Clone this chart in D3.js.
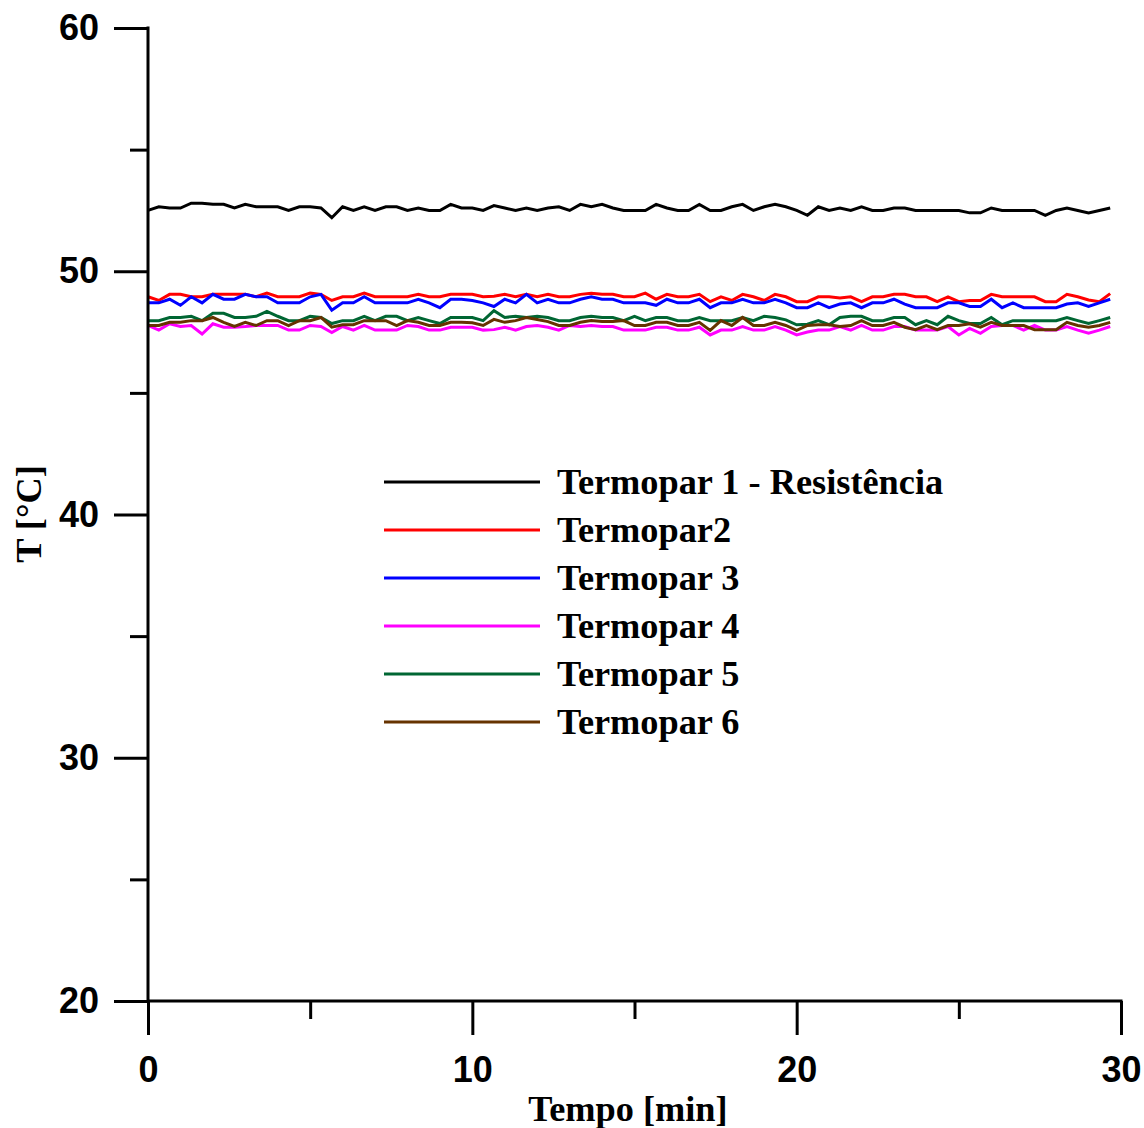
<!DOCTYPE html>
<html>
<head>
  <meta charset="utf-8">
  <script src="https://d3js.org/d3.v7.min.js"></script>
  <style>
    body { margin: 0; background: #fff; }
    .tick-num { font-family: "Liberation Sans", Arial, sans-serif; font-weight: bold; font-size: 36px; }
    .title { font-family: "Liberation Serif", "Times New Roman", serif; font-weight: bold; font-size: 36.3px; }
  </style>
</head>
<body>
<script>
// samples every 20 s (1/3 min), 90 readings
var time = d3.range(90).map(function (i) { return i / 3; });

var names = ["Termopar 1 - Resistência", "Termopar2", "Termopar 3", "Termopar 4", "Termopar 5", "Termopar 6"];
var colors = ["#000000", "#ff0000", "#0000ff", "#ff00ff", "#006633", "#663300"];

var t1 = [52.5,52.65,52.6,52.6,52.8,52.8,52.75,52.75,52.6,52.75,52.65,52.65,52.65,52.5,52.65,52.65,52.6,52.2,52.65,52.5,
  52.65,52.5,52.65,52.65,52.5,52.6,52.5,52.5,52.75,52.6,52.6,52.5,52.7,52.6,52.5,52.6,52.5,52.6,52.65,52.5,
  52.75,52.65,52.75,52.6,52.5,52.5,52.5,52.75,52.6,52.5,52.5,52.75,52.5,52.5,52.65,52.75,52.5,52.65,52.75,52.65,
  52.5,52.3,52.65,52.5,52.6,52.5,52.65,52.5,52.5,52.6,52.6,52.5,52.5,52.5,52.5,52.5,52.4,52.4,52.6,52.5,
  52.5,52.5,52.5,52.3,52.5,52.6,52.5,52.4,52.5,52.6];
var t2 = [48.95,48.8,49.05,49.05,48.95,48.95,49.05,49.05,49.05,49.05,48.95,49.1,48.95,48.95,48.95,49.1,49.05,48.8,48.95,48.95,
  49.1,48.95,48.95,48.95,48.95,49.05,48.95,48.95,49.05,49.05,49.05,48.95,48.97,49.05,48.95,49.05,48.95,49.05,48.95,48.95,
  49.05,49.1,49.05,49.05,48.95,48.95,49.1,48.85,49.05,48.95,48.95,49.05,48.75,48.95,48.8,49.05,48.95,48.8,49.05,48.95,
  48.75,48.75,48.95,48.95,48.9,48.95,48.75,48.95,48.95,49.05,49.05,48.95,48.95,48.75,48.95,48.75,48.8,48.8,49.05,48.95,
  48.95,48.95,48.95,48.75,48.75,49.05,48.95,48.82,48.75,49.08];
var t3 = [48.7,48.7,48.85,48.6,48.95,48.7,49.05,48.85,48.85,49.05,48.95,48.95,48.7,48.7,48.7,48.95,49.05,48.4,48.7,48.7,
  48.95,48.7,48.7,48.7,48.7,48.85,48.7,48.5,48.85,48.85,48.8,48.7,48.55,48.85,48.7,49.05,48.7,48.85,48.7,48.7,
  48.85,48.95,48.85,48.85,48.7,48.7,48.7,48.6,48.85,48.7,48.7,48.85,48.5,48.7,48.7,48.85,48.7,48.7,48.85,48.7,
  48.5,48.5,48.7,48.5,48.65,48.7,48.5,48.7,48.7,48.85,48.65,48.5,48.5,48.5,48.7,48.7,48.55,48.55,48.85,48.5,
  48.7,48.5,48.5,48.5,48.5,48.65,48.7,48.55,48.7,48.85];
var t4 = [47.77,47.58,47.84,47.73,47.77,47.42,47.84,47.7,47.7,47.73,47.77,47.77,47.77,47.58,47.58,47.77,47.73,47.48,47.73,47.58,
  47.77,47.58,47.58,47.58,47.77,47.73,47.58,47.58,47.7,47.7,47.7,47.58,47.6,47.7,47.58,47.73,47.77,47.7,47.58,47.77,
  47.73,47.77,47.73,47.73,47.58,47.58,47.58,47.7,47.7,47.58,47.58,47.7,47.38,47.58,47.58,47.73,47.58,47.58,47.73,47.58,
  47.38,47.5,47.58,47.58,47.73,47.58,47.77,47.58,47.58,47.73,47.73,47.58,47.58,47.58,47.73,47.38,47.65,47.45,47.73,47.77,
  47.77,47.58,47.77,47.58,47.58,47.73,47.58,47.45,47.58,47.73];
var t5 = [47.97,47.97,48.1,48.1,48.15,47.97,48.27,48.27,48.1,48.1,48.15,48.35,48.15,47.97,47.97,48.15,48.1,47.85,47.97,47.97,
  48.15,47.97,48.15,48.15,47.97,48.1,47.97,47.85,48.1,48.1,48.1,47.97,48.38,48.1,48.15,48.1,48.15,48.1,47.97,47.97,
  48.1,48.15,48.1,48.1,47.97,48.15,47.97,48.1,48.1,47.97,47.97,48.1,47.97,47.97,47.97,48.1,47.97,48.15,48.1,48.0,
  47.8,47.82,47.97,47.8,48.1,48.15,48.15,47.97,47.97,48.1,48.1,47.8,47.97,47.8,48.15,47.97,47.85,47.85,48.1,47.8,
  47.97,47.97,47.97,47.97,47.97,48.1,47.97,47.85,47.97,48.1];
var t6 = [47.77,47.77,47.9,47.9,47.97,47.97,48.1,47.9,47.73,47.9,47.77,47.97,47.97,47.77,47.97,47.97,48.1,47.7,47.8,47.8,
  47.97,47.97,47.97,47.77,47.97,47.9,47.77,47.77,47.9,47.9,47.88,47.77,48.02,47.9,47.97,48.1,48.02,47.93,47.77,47.77,
  47.9,47.97,47.93,47.93,47.97,47.77,47.77,47.9,47.9,47.77,47.77,47.9,47.57,47.97,47.77,48.1,47.77,47.77,47.9,47.77,
  47.57,47.77,47.8,47.8,47.73,47.77,47.97,47.77,47.77,47.9,47.7,47.6,47.77,47.6,47.77,47.77,47.84,47.7,47.9,47.77,
  47.77,47.77,47.6,47.6,47.6,47.9,47.77,47.7,47.77,47.9];

var series = [t1, t2, t3, t4, t5, t6];

var yMajor = [20, 30, 40, 50, 60];
var yMinor = [25, 35, 45, 55];
var xMajor = [0, 10, 20, 30];
var xMinor = [5, 15, 25];

var width = 1144, height = 1128;

var svg = d3.select("body").append("svg")
  .attr("width", width)
  .attr("height", height);

var x = d3.scaleLinear().domain([0, 30]).range([148, 1121]);
var y = d3.scaleLinear().domain([20, 60]).range([1001, 28]);

// data lines
var line = d3.line()
  .x(function (d, i) { return x(time[i]); })
  .y(function (d) { return y(d); });

svg.selectAll("path.series")
  .data(series)
  .enter()
  .append("path")
    .attr("class", "series")
    .attr("d", line)
    .attr("fill", "none")
    .attr("stroke", function (d, i) { return colors[i]; })
    .attr("stroke-width", 3)
    .attr("stroke-linejoin", "miter");

// axes
function styleAxis(g) {
  g.select(".domain").remove();
  g.selectAll(".tick line").attr("stroke", "#000").attr("stroke-width", 3);
  g.selectAll("text").attr("class", "tick-num").attr("fill", "#000");
}

svg.append("g")
  .attr("transform", "translate(148,0)")
  .call(d3.axisLeft(y).tickValues(yMajor).tickSize(34).tickPadding(15).tickFormat(d3.format("d")))
  .call(styleAxis);

svg.append("g")
  .attr("transform", "translate(148,0)")
  .call(d3.axisLeft(y).tickValues(yMinor).tickSize(18).tickFormat(""))
  .call(styleAxis);

svg.append("g")
  .attr("transform", "translate(0,1001)")
  .call(d3.axisBottom(x).tickValues(xMajor).tickSize(34).tickPadding(21).tickFormat(d3.format("d")))
  .call(styleAxis);

svg.append("g")
  .attr("transform", "translate(0,1001)")
  .call(d3.axisBottom(x).tickValues(xMinor).tickSize(18).tickFormat(""))
  .call(styleAxis);

// axis lines
svg.append("line")
  .attr("x1", 148).attr("x2", 148)
  .attr("y1", y(60) - 1.5).attr("y2", y(20))
  .attr("stroke", "#000").attr("stroke-width", 3);
svg.append("line")
  .attr("x1", 148).attr("x2", x(30) + 1.5)
  .attr("y1", 1001).attr("y2", 1001)
  .attr("stroke", "#000").attr("stroke-width", 3);

// axis titles
svg.append("text")
  .attr("class", "title")
  .attr("x", 628)
  .attr("y", 1121)
  .attr("text-anchor", "middle")
  .text("Tempo [min]");

svg.append("text")
  .attr("class", "title")
  .attr("transform", "translate(41,514) rotate(-90)")
  .attr("text-anchor", "middle")
  .text("T [°C]");

// legend
var legend = svg.selectAll("g.legend")
  .data(names)
  .enter()
  .append("g")
    .attr("class", "legend")
    .attr("transform", function (d, i) { return "translate(384," + (482 + i * 48) + ")"; });

legend.append("line")
  .attr("x1", 0).attr("x2", 156)
  .attr("stroke", function (d, i) { return colors[i]; })
  .attr("stroke-width", 3);

legend.append("text")
  .attr("class", "title")
  .attr("x", 173)
  .attr("y", 12)
  .text(function (d) { return d; });
</script>
</body>
</html>
